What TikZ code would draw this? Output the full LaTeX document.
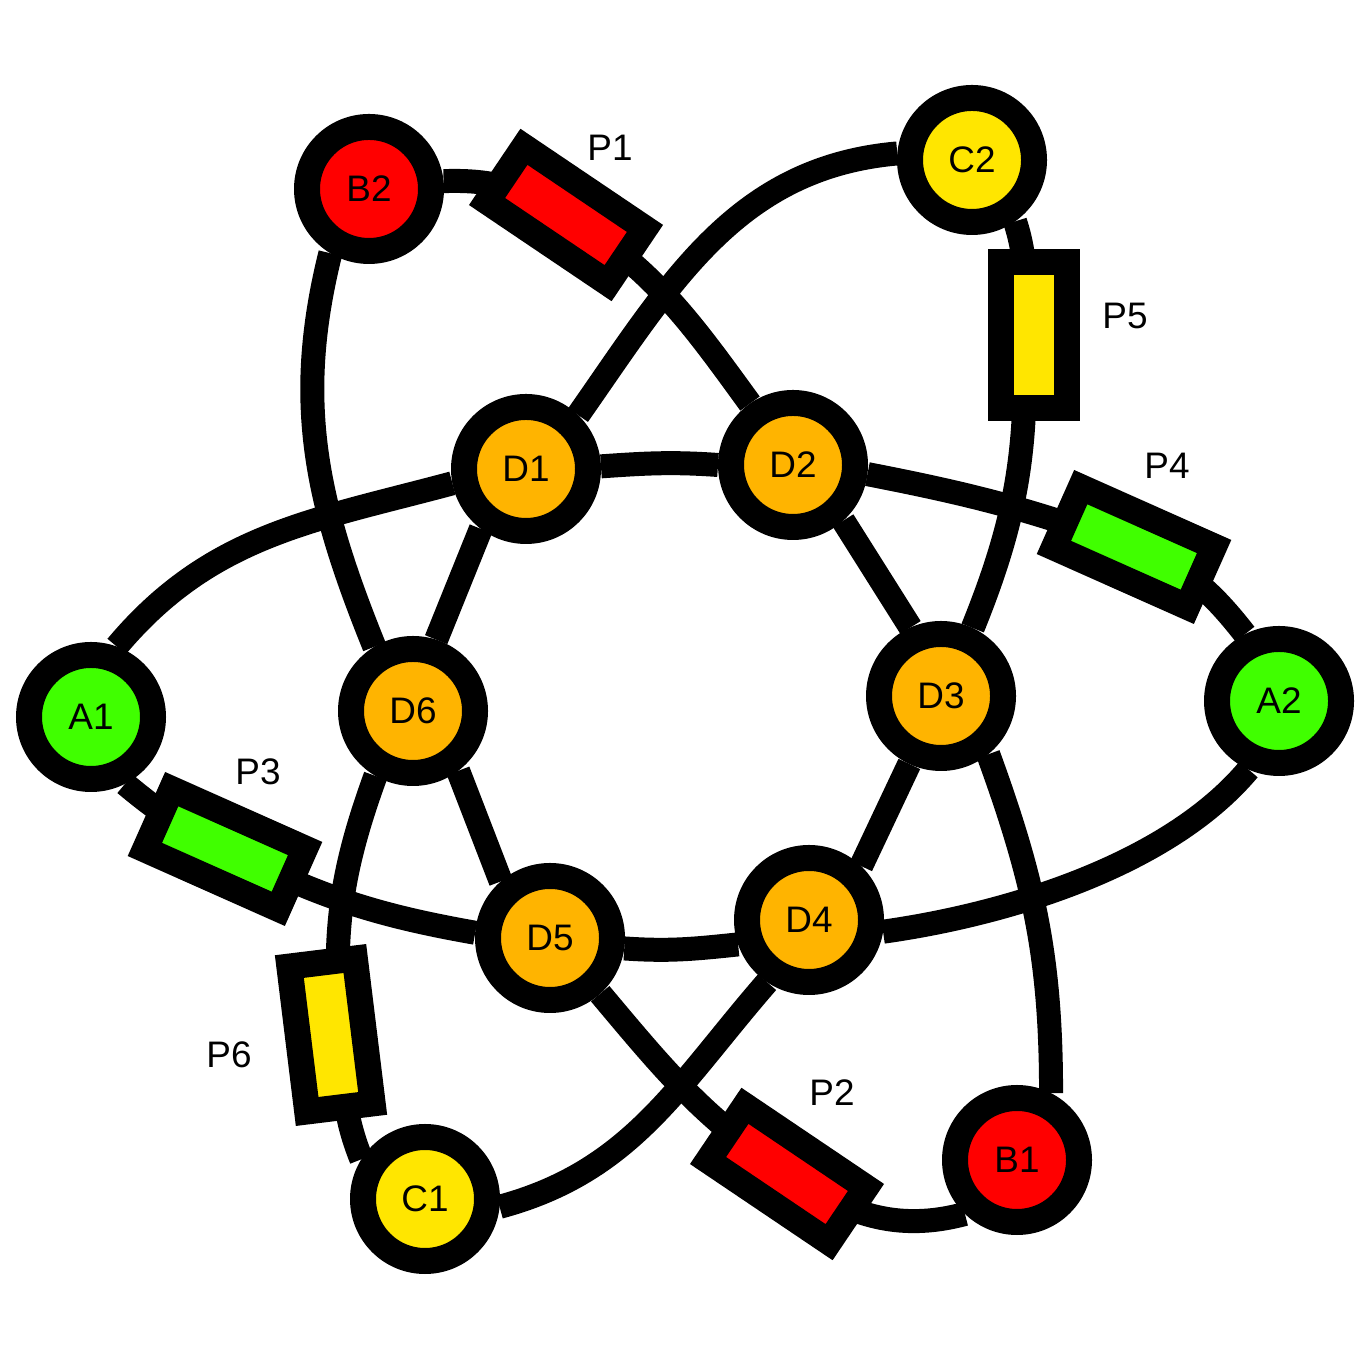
\documentclass[tikz,border=0pt]{standalone}
\usepackage{fontspec}
\setmainfont{Liberation Sans}
\usetikzlibrary{backgrounds}
\definecolor{cverde}{RGB}{64,255,0}
\definecolor{crojo}{RGB}{255,0,0}
\definecolor{camar}{RGB}{255,230,0}
\definecolor{cnaranja}{RGB}{255,180,0}

\begin{document}
\begin{tikzpicture}[font=\fontsize{10.5}{12}\selectfont,
    nodo/.style={circle, draw, line width=2.6mm, minimum size=12.4mm, inner sep=0pt},
    res/.style={rectangle, draw, line width=2.6mm, minimum width=14.6mm, minimum height=6.6mm, inner sep=0pt},
    hilo/.style={line width=2.4mm}]

  \useasboundingbox (0,0) rectangle (13.66,13.66);

  % nodos exteriores
  \node[nodo, fill=cverde] (A1) at (0.91,6.49) {A1};
  \node[nodo, fill=cverde] (A2) at (12.79,6.65) {A2};
  \node[nodo, fill=crojo] (B1) at (10.17,2.06) {B1};
  \node[nodo, fill=crojo] (B2) at (3.69,11.77) {B2};
  \node[nodo, fill=camar] (C1) at (4.25,1.67) {C1};
  \node[nodo, fill=camar] (C2) at (9.72,12.06) {C2};

  % anillo central
  \node[nodo, fill=cnaranja] (D1) at (5.26,8.97) {D1};
  \node[nodo, fill=cnaranja] (D2) at (7.93,9.01) {D2};
  \node[nodo, fill=cnaranja] (D3) at (9.41,6.70) {D3};
  \node[nodo, fill=cnaranja] (D4) at (8.09,4.46) {D4};
  \node[nodo, fill=cnaranja] (D5) at (5.50,4.28) {D5};
  \node[nodo, fill=cnaranja] (D6) at (4.13,6.55) {D6};

  % resistencias
  \node[res, fill=crojo, rotate=-34] (P1) at (5.66,11.51) {};
  \node[res, fill=crojo, rotate=-34] (P2) at (7.87,1.92) {};
  \node[res, fill=cverde, rotate=-24] (P3) at (2.25,5.17) {};
  \node[res, fill=cverde, rotate=-24] (P4) at (11.34,8.19) {};
  \node[res, fill=camar, rotate=90] (P5) at (10.34,10.31) {};
  \node[res, fill=camar, rotate=-83] (P6) at (3.31,3.31) {};

  \node (lP1) at (6.10,12.18) {P1};
  \node (lP2) at (8.32,2.73) {P2};
  \node (lP3) at (2.58,5.94) {P3};
  \node (lP4) at (11.67,9.00) {P4};
  \node (lP5) at (11.25,10.50) {P5};
  \node (lP6) at (2.29,3.11) {P6};

  \begin{scope}[on background layer]
  \begin{scope}[hilo]
    % elipse A
    \draw (A1.70) to[out=50, in=195] (D1.191);
    \draw (D1.2) to[out=4, in=176] (D2.180);
    \draw (D2.-7) to[out=-11, in=160] (P4.center);
    \draw (P4.center) to[out=-22, in=128] (A2.117);
    \draw (A2.246) to[out=230, in=8, looseness=0.8] (D4.-9);
    \draw (D4.199) to[out=186, in=-4] (D5.-8);
    \draw (D5.176) to[out=170, in=-27] (P3.center);
    \draw (P3.center) to[out=153, in=-40] (A1.-63);

    % elipse B
    \draw (B2.6) to[out=2, in=148] (P1.center);
    \draw (P1.center) to[out=-32, in=126] (D2.125);
    \draw (D2.-48) -- (D3.114);
    \draw (D3.-51) to[out=-70, in=90] (B1.63);
    \draw (B1.226) to[out=195, in=-34] (P2.center);
    \draw (P2.center) to[out=146, in=-50] (D5.-48);
    \draw (D5.131) -- (D6.-53);
    \draw (D6.121) to[out=112, in=-104] (B2.239);

    % elipse C
    \draw (C2.175) to[out=185, in=55] (D1.46);
    \draw (D1.233) -- (D6.72);
    \draw (D6.240) to[out=250, in=95] ([xshift=1mm]P6.center);
    \draw ([xshift=1mm]P6.center) to[out=273, in=112] (C1.148);
    \draw (C1.-6) to[out=15, in=229] (D4.236);
    \draw (D4.46) -- (D3.245);
    \draw (D3.65) to[out=68, in=-88] ([xshift=-1mm]P5.center);
    \draw ([xshift=-1mm]P5.center) to[out=90, in=-72] (C2.-55);
  \end{scope}
  \end{scope}
\end{tikzpicture}
\end{document}
